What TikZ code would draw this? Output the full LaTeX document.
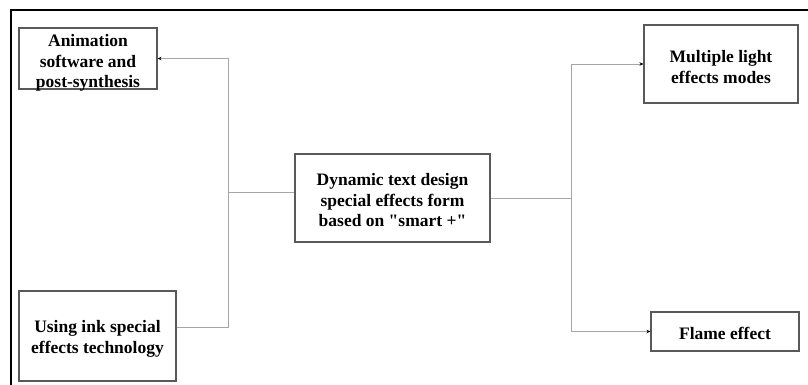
\documentclass[tikz,border=0pt]{standalone}
\usepackage{fontspec}
\setmainfont{Liberation Serif}
\usetikzlibrary{arrows.meta}
\newcommand{\topgap}[1]{\rule{0pt}{#1}}
\begin{document}
\begin{tikzpicture}[x=1pt,y=-1pt,
  txt/.style={inner sep=0pt,align=center,font=\fontsize{17.5}{20.5}\selectfont\bfseries},
  box/.style={draw=black!65,line width=1.1pt,txt},
  conn/.style={draw=black!35,line width=0.8pt},
  arr/.style={conn,-{Stealth[length=4pt,width=3.5pt,black]}}]
\useasboundingbox (0,0) rectangle (808,385);
\draw[line width=2.6pt] (11,386) -- (11,10) -- (809,10);
\node[box,minimum width=138pt,minimum height=61pt,
  label={[txt,yshift=-4.5pt]center:Animation\\software and\\post-synthesis}] (anim) at (88,58.5) {};
\node[box,minimum width=157pt,minimum height=90pt] (ink) at (97.5,336) {\topgap{18pt}Using ink special\\effects technology};
\node[box,minimum width=195pt,minimum height=88pt] (center) at (392.5,198) {\topgap{17pt}Dynamic text design\\special effects form\\based on \textquotedbl smart +\textquotedbl};
\node[box,minimum width=154pt,minimum height=78pt] (multi) at (721,64) {\topgap{18pt}Multiple light\\effects modes};
\node[box,minimum width=148pt,minimum height=39pt] (flame) at (725,331.5) {\topgap{16pt}Flame effect};
\coordinate (jl) at (228,192);
\coordinate (jr) at (571,198);
\draw[conn] ([yshift=6pt]center.west) -- (jl);
\draw[conn] ([yshift=9pt]ink.east) -| (jl);
\draw[arr] (jl) |- (anim.east);
\draw[conn] (center.east) -- (jr);
\draw[arr] (jr) |- (multi.west);
\draw[arr] (jr) |- (flame.west);
\end{tikzpicture}
\end{document}
